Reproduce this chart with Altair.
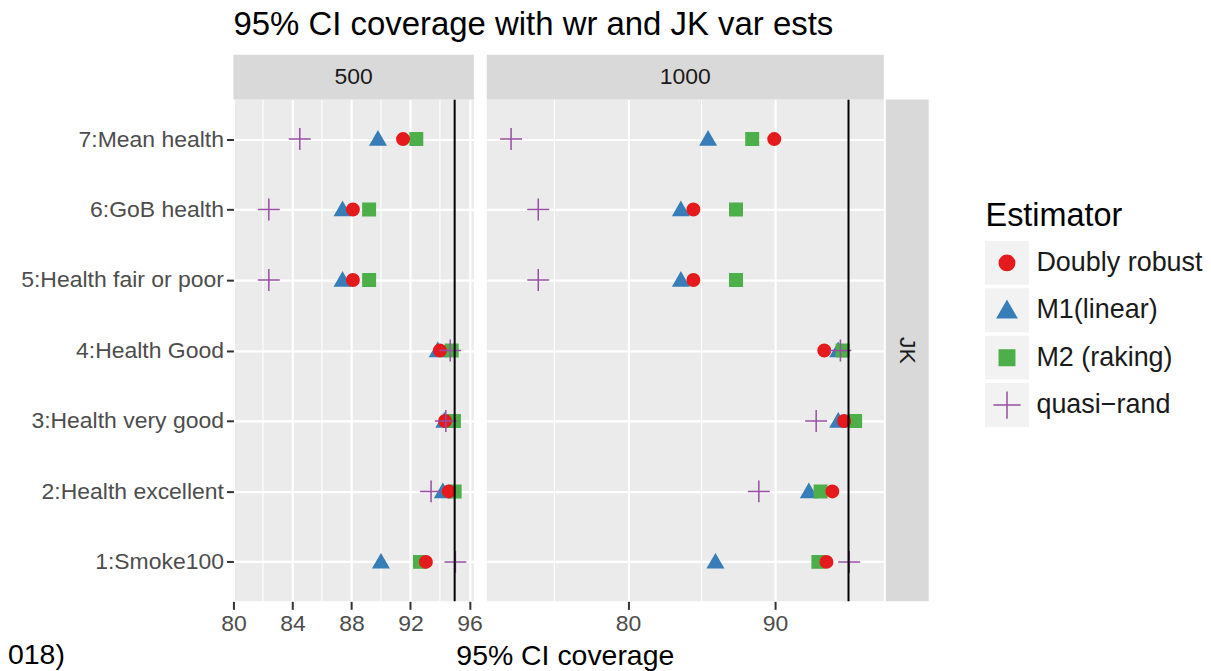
import altair as alt
import pandas as pd

FONT = "Liberation Sans"

ROWS = ["7:Mean health", "6:GoB health", "5:Health fair or poor", "4:Health Good",
        "3:Health very good", "2:Health excellent", "1:Smoke100"]
EST = ["Doubly robust", "M1(linear)", "M2 (raking)", "quasi\u2212rand"]
DRAW_ORDER = ["M1(linear)", "M2 (raking)", "Doubly robust", "quasi\u2212rand"]

# sample size 500
DR_500 = [91.5, 88.1, 88.1, 94.0, 94.35, 94.6, 93.05]
M1_500 = [89.8, 87.4, 87.4, 93.85, 94.3, 94.2, 90.0]
M2_500 = [92.4, 89.2, 89.2, 94.8, 94.95, 95.0, 92.65]
QR_500 = [84.5, 82.4, 82.4, 94.7, 94.4, 93.4, 95.05]

# sample size 1000
DR_1000 = [89.95, 84.45, 84.45, 93.35, 94.7, 93.9, 93.5]
M1_1000 = [85.45, 83.6, 83.6, 94.3, 94.3, 92.3, 85.95]
M2_1000 = [88.45, 87.35, 87.35, 94.6, 95.45, 93.1, 92.95]
QR_1000 = [72.05, 73.9, 73.9, 94.45, 92.8, 88.9, 95.05]

TARGET = [95]
LEFT_MAJOR = [80, 84, 88, 92, 96]
LEFT_MINOR = [82, 86, 90, 94]
RIGHT_MAJOR = [80, 90]
RIGHT_MINOR = [75, 85, 95]
LEFT_DOMAIN = [80, 96.3]
RIGHT_DOMAIN = [70.4, 97.4]

COLORS = ["#E41A1C", "#377EB8", "#4DAF4A", "#984EA3"]
SHAPES = ["circle", "M0,-1.2L1.24,0.96L-1.24,0.96Z", "square", "M-1.76,0H1.76M0,-1.76V1.76"]

series = {
    "500": {"Doubly robust": DR_500, "M1(linear)": M1_500, "M2 (raking)": M2_500, "quasi\u2212rand": QR_500},
    "1000": {"Doubly robust": DR_1000, "M1(linear)": M1_1000, "M2 (raking)": M2_1000, "quasi\u2212rand": QR_1000},
}
recs = []
for n, d in series.items():
    for est in DRAW_ORDER:
        for r, v in zip(ROWS, d[est]):
            recs.append({"n": n, "Estimator": est, "outcome": r, "coverage": v})
df = pd.DataFrame(recs)

H = 503
color_scale = alt.Scale(domain=EST, range=COLORS)
shape_scale = alt.Scale(domain=EST, range=SHAPES)


def panel(n, width, domain, major, minor, show_y, extras):
    xs = alt.Scale(domain=domain, nice=False, zero=False)
    xaxis = alt.Axis(values=major, title=None, tickSize=8, labelPadding=3, grid=True,
                     domain=False, labelFlush=False)
    ys = alt.Scale(domain=ROWS, padding=0.56)
    if show_y:
        yaxis = alt.Axis(title=None, tickSize=7, labelPadding=3, grid=True, domain=False,
                         labelLimit=400)
    else:
        yaxis = alt.Axis(title=None, labels=False, ticks=False, grid=True, domain=False)

    pts = alt.Chart(df[df["n"] == n]).mark_point(filled=True, size=156, strokeWidth=1.5, opacity=1).encode(
        x=alt.X("coverage:Q", scale=xs, axis=xaxis),
        y=alt.Y("outcome:N", scale=ys, axis=yaxis, sort=ROWS),
        color=alt.Color("Estimator:N", scale=color_scale, legend=None),
        stroke=alt.Stroke("Estimator:N", scale=color_scale, legend=None),
        shape=alt.Shape("Estimator:N", scale=shape_scale, legend=None),
    )
    minor_rules = alt.Chart(pd.DataFrame({"coverage": minor})).mark_rule(
        color="white", strokeWidth=1.1).encode(x=alt.X("coverage:Q", scale=xs, axis=xaxis))
    target = alt.Chart(pd.DataFrame({"coverage": TARGET})).mark_rule(
        color="black", strokeWidth=2).encode(x=alt.X("coverage:Q", scale=xs, axis=xaxis))
    strip_df = pd.DataFrame({"label": [n]})
    strip = alt.Chart(strip_df).mark_rect(color="#D9D9D9").encode(
        x=alt.value(0), x2=alt.value(width), y=alt.value(-45), y2=alt.value(0))
    strip_txt = alt.Chart(strip_df).mark_text(font=FONT, fontSize=23, color="#1A1A1A",
                                              baseline="middle", align="center").encode(
        x=alt.value(width / 2), y=alt.value(-22.5), text="label:N")
    layers = [minor_rules, pts, target, strip, strip_txt] + extras
    return alt.layer(*layers).properties(
        width=width, height=H, view=alt.ViewBackground(fill="#EBEBEB", stroke=None))


txt_df = pd.DataFrame({"title": ["95% CI coverage with wr and JK var ests"],
                       "xtitle": ["95% CI coverage"], "note": ["018)"]})
title = alt.Chart(txt_df).mark_text(font=FONT, fontSize=33, color="black", align="left",
                                    baseline="alphabetic").encode(
    x=alt.value(0), y=alt.value(-65), text="title:N")
xtitle = alt.Chart(txt_df).mark_text(font=FONT, fontSize=28.5, color="black", align="center",
                                     baseline="alphabetic").encode(
    x=alt.value(332.7), y=alt.value(566.5), text="xtitle:N")
note = alt.Chart(txt_df).mark_text(font=FONT, fontSize=28.5, color="black", align="left",
                                   baseline="alphabetic").encode(
    x=alt.value(-226), y=alt.value(566), text="note:N")

left = panel("500", 241, LEFT_DOMAIN, LEFT_MAJOR, LEFT_MINOR, True, [title, xtitle, note])
right = panel("1000", 398, RIGHT_DOMAIN, RIGHT_MAJOR, RIGHT_MINOR, False, [])


def spacer(w):
    return alt.Chart(pd.DataFrame({"a": [0]})).mark_point(opacity=0).encode(
        x=alt.value(0), y=alt.value(0)).properties(
        width=w, height=H, view=alt.ViewBackground(stroke=None))


jk = alt.Chart(pd.DataFrame({"strip": ["JK"]})).mark_text(
    font=FONT, fontSize=23, color="#1A1A1A", angle=90, align="center", baseline="middle").encode(
    x=alt.value(21.5), y=alt.value(H / 2), text="strip:N").properties(
    width=43, height=H, view=alt.ViewBackground(fill="#D9D9D9", stroke=None))

leg_df = pd.DataFrame({"Estimator": EST})
ly = alt.Y("Estimator:N", scale=alt.Scale(type="point", domain=EST, range=[163.7, 306.2], padding=0),
           axis=None)
keys = alt.Chart(leg_df).mark_square(size=44 * 44, color="#F2F2F2", opacity=1).encode(
    x=alt.value(22.5), y=ly)
syms = alt.Chart(leg_df).mark_point(filled=True, size=240, strokeWidth=1.5, opacity=1).encode(
    x=alt.value(22.5), y=ly,
    color=alt.Color("Estimator:N", scale=color_scale, legend=None),
    stroke=alt.Stroke("Estimator:N", scale=color_scale, legend=None),
    shape=alt.Shape("Estimator:N", scale=shape_scale, legend=None))
labs = alt.Chart(leg_df).mark_text(font=FONT, fontSize=27, color="#1A1A1A", align="left",
                                   baseline="middle").encode(
    x=alt.value(52), y=ly, text="Estimator:N")
leg_title = alt.Chart(pd.DataFrame({"t": ["Estimator"]})).mark_text(
    font=FONT, fontSize=32.5, color="black", align="left", baseline="alphabetic").encode(
    x=alt.value(1), y=alt.value(126.7), text="t:N")
legend = alt.layer(keys, syms, labs, leg_title).properties(
    width=215, height=H, view=alt.ViewBackground(stroke=None))

chart = alt.hconcat(left, spacer(12.5), right, spacer(2), jk, spacer(56), legend,
                    spacing=0, bounds="flush").properties(
    padding=0, background="white").configure_view(stroke=None).configure_axis(
    labelFont=FONT, labelFontSize=23, labelColor="#4D4D4D", tickColor="#333333", tickWidth=2,
    gridColor="white", gridWidth=2.2).resolve_scale(x="independent", y="independent")

chart.save("out.html", embed_options={"renderer": "svg", "actions": False})
